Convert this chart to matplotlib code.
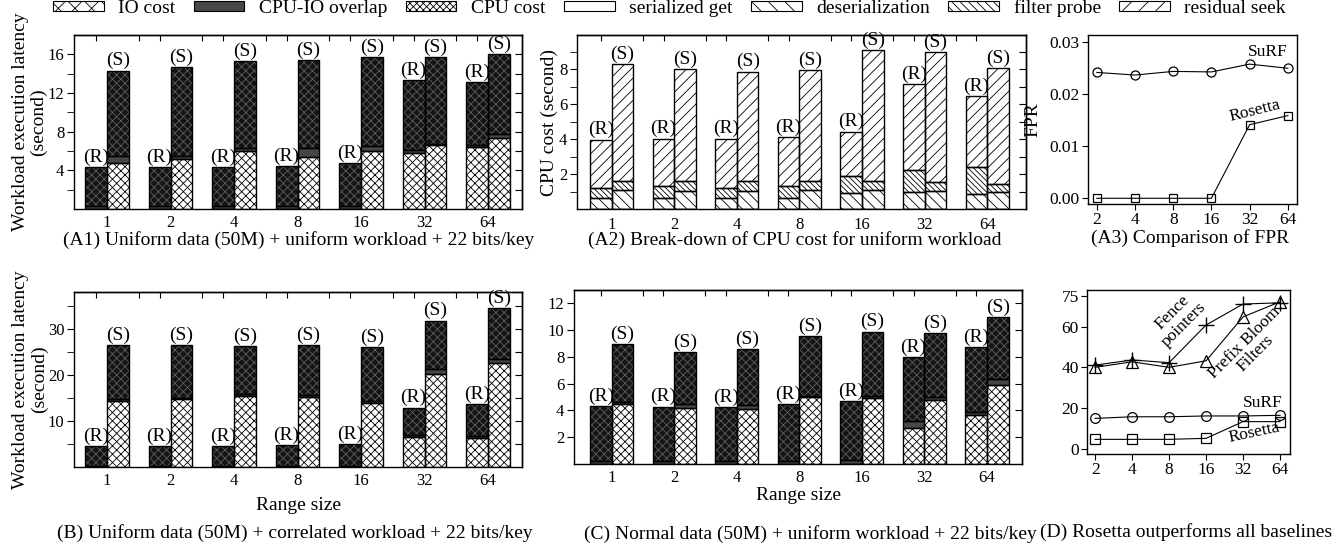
import numpy as np
import matplotlib
matplotlib.use("Agg")
import matplotlib.pyplot as plt
from matplotlib.patches import Patch

plt.rcParams['font.family'] = ['Liberation Serif', 'DejaVu Serif']
plt.rcParams['font.size'] = 14
plt.rcParams['hatch.linewidth'] = 0.6
plt.rcParams['axes.linewidth'] = 1.0

range_sizes = ['1', '2', '4', '8', '16', '32', '64']
fpr_sizes = ['2', '4', '8', '16', '32', '64']

# (A1) uniform data + uniform workload: cpu cost, overlap, total latency
a1_r_cpu = [0, 0, 0, 0, 0, 5.8, 6.4]
a1_r_ovl = [0.3, 0.3, 0.3, 0.3, 0.3, 0.3, 0.2]
a1_r_tot = [4.34, 4.34, 4.34, 4.45, 4.76, 13.3, 13.1]
a1_s_cpu = [4.8, 5.2, 6.0, 5.4, 6.0, 6.6, 7.3]
a1_s_ovl = [0.7, 0.3, 0.35, 0.9, 0.5, 0.15, 0.5]
a1_s_tot = [14.3, 14.7, 15.3, 15.4, 15.7, 15.7, 16.0]

# (A2) break-down of cpu cost
a2_r_ser = [0, 0, 0, 0, 0, 0, 0]
a2_r_deser = [0.63, 0.63, 0.63, 0.63, 0.91, 0.97, 0.86]
a2_r_filter = [0.57, 0.67, 0.59, 0.7, 0.99, 1.28, 1.57]
a2_r_tot = [3.96, 4.02, 4.02, 4.1, 4.42, 7.16, 6.45]
a2_s_ser = [0, 0, 0, 0, 0, 0, 0]
a2_s_deser = [1.1, 1.05, 1.05, 1.1, 1.1, 1.05, 0.95]
a2_s_filter = [0.5, 0.57, 0.53, 0.48, 0.48, 0.51, 0.48]
a2_s_tot = [8.28, 8.02, 7.87, 7.96, 9.1, 8.97, 8.06]

# (A3) FPR
surf_fpr = [0.0242, 0.0237, 0.0244, 0.0243, 0.0258, 0.0250]
rosetta_fpr = [0, 0, 0, 0, 0.01415, 0.0159]

# (B) correlated workload
b_r_cpu = [0, 0, 0, 0, 0, 6.5, 6.4]
b_r_ovl = [0.3, 0.3, 0.3, 0.3, 0.3, 0.4, 0.3]
b_r_tot = [4.5, 4.5, 4.5, 4.7, 4.9, 12.9, 13.6]
b_s_cpu = [14.4, 14.7, 15.5, 15.3, 13.8, 20.1, 22.5]
b_s_ovl = [0.4, 0.3, 0.3, 0.3, 0.6, 1.1, 0.9]
b_s_tot = [26.5, 26.5, 26.2, 26.5, 26.0, 31.8, 34.5]

# (C) normal data
c_r_cpu = [0, 0, 0, 0, 0, 2.7, 3.65]
c_r_ovl = [0.23, 0.23, 0.23, 0.23, 0.3, 0.5, 0.2]
c_r_tot = [4.33, 4.28, 4.24, 4.48, 4.71, 7.97, 8.72]
c_s_cpu = [4.5, 4.15, 4.1, 5.0, 4.9, 4.8, 5.9]
c_s_ovl = [0.1, 0.3, 0.3, 0.1, 0.18, 0.2, 0.45]
c_s_tot = [8.96, 8.37, 8.56, 9.56, 9.88, 9.76, 10.95]

# (D) baselines
fence = [41.1, 43.6, 42.3, 60.8, 71.1, 71.7]
pbf = [40.0, 42.7, 40.0, 43.2, 64.8, 72.2]
surf_d = [14.9, 15.7, 15.7, 16.1, 16.1, 16.4]
rosetta_d = [4.6, 4.6, 4.6, 5.1, 13.3, 13.3]

W, H = 1338, 548
fig = plt.figure(figsize=(W / 100, H / 100), dpi=100)


def box(l, t, r, b):
    return [l / W, 1 - b / H, (r - l) / W, (b - t) / H]


bw = 0.345
IO = ('#141414', 'xxxx', '#5e5e5e')
OVL = ('#474747', None, '#474747')
CPU = ('white', 'xxxx', 'black')
SER = ('white', None, 'black')
DES = ('white', '\\\\\\', 'black')
FIL = ('white', '\\\\\\\\\\\\', 'black')
RES = ('white', '///', 'black')


def seg(ax, x, bottom, height, style):
    face, hatch, hc = style
    ax.bar(x, height, bw, bottom=bottom, color=face, edgecolor=hc,
           hatch=hatch, linewidth=0, zorder=2)
    ax.bar(x, height, bw, bottom=bottom, fill=False, edgecolor='black',
           linewidth=1.0, zorder=3)


def frame(ax, xlim, ylim, ymaj, ymin):
    x = np.arange(7)
    ax.set_xlim(xlim)
    ax.set_ylim(ylim)
    ax.set_xticks(x)
    ax.set_xticklabels(range_sizes)
    ax.set_yticks(ymaj)
    ax.set_yticks(ymin, minor=True)
    ax.tick_params(axis='x', length=0, labelsize=12, pad=4)
    ax.tick_params(axis='y', which='both', direction='out', length=5,
                   labelsize=12, pad=2)
    sy = ax.secondary_yaxis('right')
    sy.set_yticks(sorted(list(ymaj) + list(ymin)))
    sy.tick_params(direction='in', length=5, labelright=False)
    sx = ax.secondary_xaxis('top')
    sx.set_xticks(sorted(list(x - bw / 2) + list(x[:-1] + 0.5)))
    sx.tick_params(direction='in', length=4, labeltop=False)


def latency(ax, r_cpu, r_ovl, r_tot, s_cpu, s_ovl, s_tot):
    x = np.arange(7)
    for off, cpu, ovl, tot, tag in [(-bw / 2, r_cpu, r_ovl, r_tot, '(R)'),
                                    (bw / 2, s_cpu, s_ovl, s_tot, '(S)')]:
        cpu = np.array(cpu)
        ovl = np.array(ovl)
        tot = np.array(tot)
        seg(ax, x + off, 0, cpu, CPU)
        seg(ax, x + off, cpu, ovl, OVL)
        seg(ax, x + off, cpu + ovl, tot - cpu - ovl, IO)
        for xi, t in zip(x + off, tot):
            ax.annotate(tag, (xi, t), xytext=(0, 1), textcoords='offset points',
                        ha='center', va='bottom', fontsize=14)


# A1
ax = fig.add_axes(box(74, 35, 522, 209))
latency(ax, a1_r_cpu, a1_r_ovl, a1_r_tot, a1_s_cpu, a1_s_ovl, a1_s_tot)
frame(ax, (-0.52, 6.535), (0, 18), [4, 8, 12, 16], [2, 6, 10, 14])
ax.set_ylabel('Workload execution latency\n(second)', fontsize=14,
              linespacing=1.1, labelpad=0)

# A2
ax = fig.add_axes(box(577, 35, 1026, 209))
x = np.arange(7)
for off, ser, des, fil, tot, tag in [(-bw / 2, a2_r_ser, a2_r_deser, a2_r_filter, a2_r_tot, '(R)'),
                                     (bw / 2, a2_s_ser, a2_s_deser, a2_s_filter, a2_s_tot, '(S)')]:
    ser, des, fil, tot = map(np.array, (ser, des, fil, tot))
    seg(ax, x + off, 0, ser, SER)
    seg(ax, x + off, ser, des, DES)
    seg(ax, x + off, ser + des, fil, FIL)
    seg(ax, x + off, ser + des + fil, tot - ser - des - fil, RES)
    for xi, t in zip(x + off, tot):
        ax.annotate(tag, (xi, t), xytext=(0, 1), textcoords='offset points',
                    ha='center', va='bottom', fontsize=14)
frame(ax, (-0.555, 6.62), (0, 9.96), [2, 4, 6, 8], [1, 3, 5, 7, 9])
ax.tick_params(axis='x', pad=6)
ax.set_ylabel('CPU cost (second)', fontsize=14, labelpad=1)

# A3
ax = fig.add_axes(box(1088, 35, 1297, 204))
xs = np.arange(6)
ax.plot(xs, surf_fpr, '-o', color='black', mfc='none', ms=6.5, lw=0.8, mew=0.9)
ax.plot(xs, rosetta_fpr, '-s', color='black', mfc='none', ms=6, lw=0.8, mew=0.9)
ax.set_xlim(-0.23, 5.24)
ax.set_ylim(-0.0011, 0.0314)
ax.set_xticks(xs)
ax.set_xticklabels(fpr_sizes)
ax.set_yticks([0, 0.01, 0.02, 0.03])
ax.set_yticklabels(['0.00', '0.01', '0.02', '0.03'])
ax.tick_params(direction='out', length=4, labelsize=12.5, pad=2)
ax.set_ylabel('FPR', fontsize=14, labelpad=6)
ax.text(4.48, 0.0281, 'SuRF', ha='center', va='center', fontsize=12.5)
ax.text(4.14, 0.0168, 'Rosetta', ha='center', va='center', fontsize=12.5,
        rotation=14)

# B
ax = fig.add_axes(box(74, 292, 522, 467))
latency(ax, b_r_cpu, b_r_ovl, b_r_tot, b_s_cpu, b_s_ovl, b_s_tot)
frame(ax, (-0.52, 6.535), (0, 38), [10, 20, 30], [5, 15, 25, 35])
ax.set_ylabel('Workload execution latency\n(second)', fontsize=14,
              linespacing=1.1, labelpad=0)
ax.set_xlabel('Range size', fontsize=14, labelpad=6)

# C
ax = fig.add_axes(box(574, 290, 1022, 464))
latency(ax, c_r_cpu, c_r_ovl, c_r_tot, c_s_cpu, c_s_ovl, c_s_tot)
frame(ax, (-0.6, 6.56), (0, 13), [2, 4, 6, 8, 10, 12], [])
ax.set_xlabel('Range size', fontsize=14, labelpad=1)

# D
ax = fig.add_axes(box(1087, 290, 1290, 454))
ax.plot(xs, fence, '-+', color='black', ms=11, lw=0.8, mew=1.0)
ax.plot(xs, pbf, '-^', color='black', mfc='none', ms=9, lw=0.8, mew=0.9)
ax.plot(xs, surf_d, '-o', color='black', mfc='none', ms=7, lw=0.8, mew=0.9)
ax.plot(xs, rosetta_d, '-s', color='black', mfc='none', ms=6.5, lw=0.8, mew=0.9)
ax.set_xlim(-0.22, 5.27)
ax.set_ylim(-2.6, 78)
ax.set_xticks(xs)
ax.set_xticklabels(fpr_sizes)
ax.set_yticks([0, 20, 40, 60, 75])
ax.tick_params(direction='out', length=4, labelsize=12.5, pad=2)
ax.text(2.25, 64, 'Fence\npointers', ha='center', va='center', fontsize=12.5,
        rotation=45, linespacing=1.0)
ax.text(4.19, 49.4, 'Prefix Bloom\nFilters', ha='center', va='center',
        fontsize=12.5, rotation=45, linespacing=1.0)
ax.text(4.53, 22.4, 'SuRF', ha='center', va='center', fontsize=12.5)
ax.text(4.3, 7.7, 'Rosetta', ha='center', va='center', fontsize=12.5,
        rotation=12)

# captions
caps = [(299, 240, '(A1) Uniform data (50M) + uniform workload + 22 bits/key'),
        (795, 240, '(A2) Break-down of CPU cost for uniform workload'),
        (1190, 238, '(A3) Comparison of FPR'),
        (295, 533, '(B) Uniform data (50M) + correlated workload + 22 bits/key'),
        (810, 534, '(C) Normal data (50M) + uniform workload + 22 bits/key'),
        (1186, 532, '(D) Rosetta outperforms all baselines')]
for cx, cy, s in caps:
    fig.text(cx / W, 1 - cy / H, s, ha='center', va='center', fontsize=14)

# legend
handles = [Patch(facecolor='white', edgecolor='black', hatch='xx', lw=0.8),
           Patch(facecolor='#474747', edgecolor='black', lw=0.8),
           Patch(facecolor='white', edgecolor='black', hatch='xxxxx', lw=0.8),
           Patch(facecolor='white', edgecolor='black', lw=0.8),
           Patch(facecolor='white', edgecolor='black', hatch='\\\\', lw=0.8),
           Patch(facecolor='white', edgecolor='black', hatch='\\\\\\\\', lw=0.8),
           Patch(facecolor='white', edgecolor='black', hatch='//', lw=0.8)]
labels = ['IO cost', 'CPU-IO overlap', 'CPU cost', 'serialized get',
          'deserialization', 'filter probe', 'residual seek']
fig.legend(handles, labels, loc='center left', bbox_to_anchor=(53 / W, 1 - 8 / H),
           ncol=7, frameon=False, handlelength=2.6, handleheight=0.4,
           handletextpad=0.75, columnspacing=0.95, borderpad=0, borderaxespad=0,
           fontsize=14)

fig.savefig('out.png', dpi=100)
